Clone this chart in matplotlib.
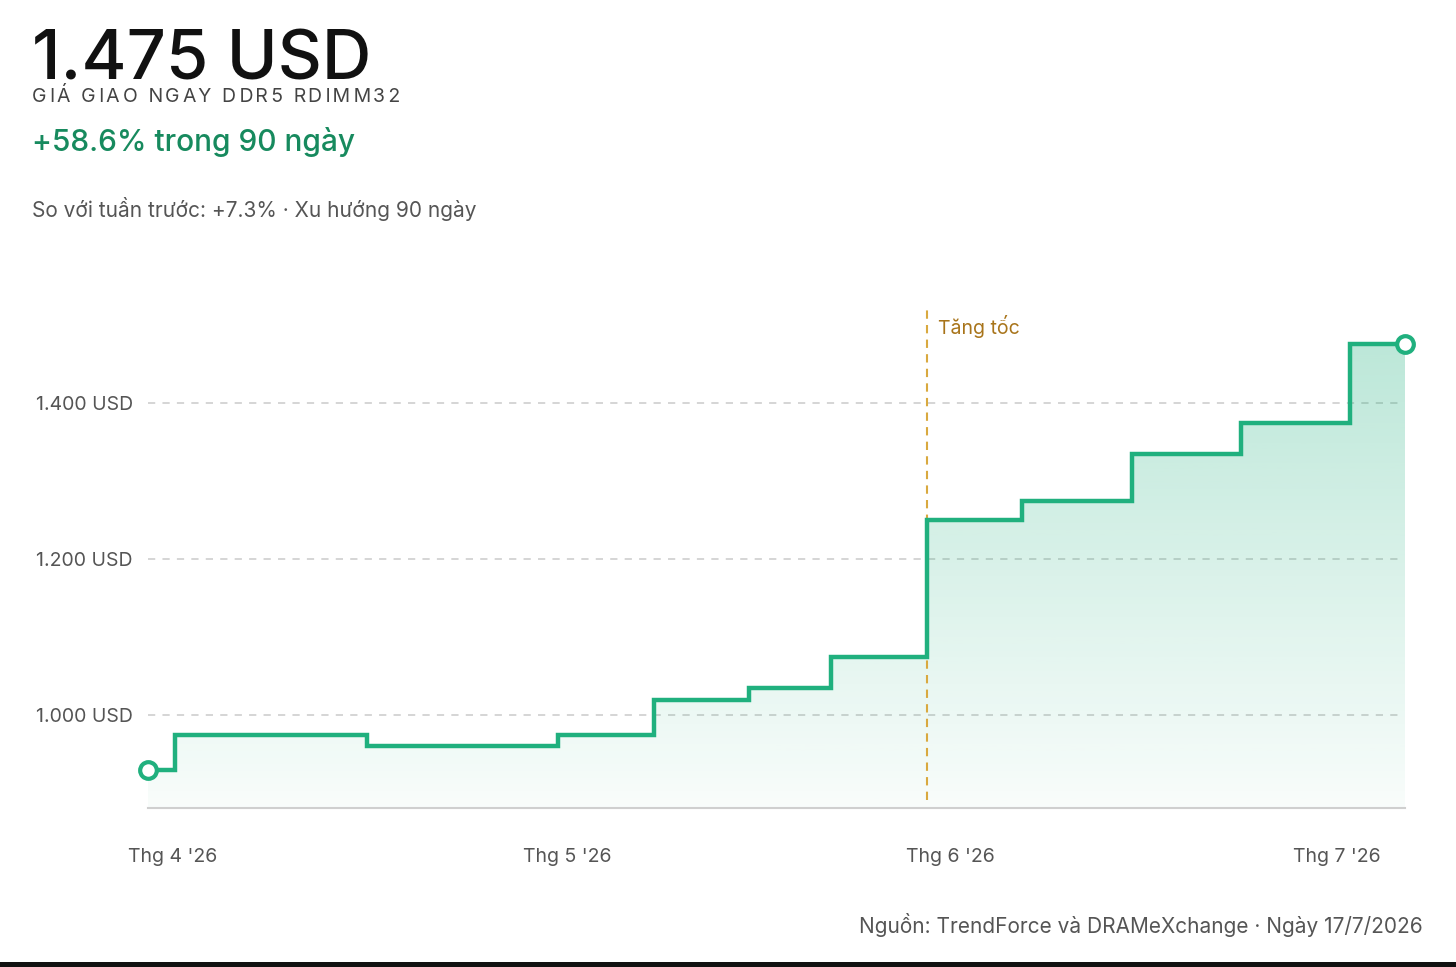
import matplotlib.pyplot as plt
import matplotlib.patches as mpatches
import numpy as np

# data
days = [0, 2, 16, 30, 37, 44, 50, 57, 64, 72, 80, 88, 92]
prices = [930, 975, 960, 975, 1020, 1035, 1075, 1250, 1275, 1335, 1375, 1475, 1475]
ytick_vals = [1000, 1200, 1400]
ytick_labels = ['1.000 USD', '1.200 USD', '1.400 USD']
xtick_pos = [1.8, 30.7, 58.7, 87.0]
xtick_labels = ["Thg 4 '26", "Thg 5 '26", "Thg 6 '26", "Thg 7 '26"]
accel_day = 57

W, H = 1456, 967
GREEN = '#20b07e'
GRAY = '#555555'

plt.rcParams['font.family'] = ['Inter', 'DejaVu Sans']

fig = plt.figure(figsize=(W / 100, H / 100), dpi=100)
ax = fig.add_axes([148 / W, 1 - 808 / H, (1405 - 148) / W, (808 - 300) / H])
ax.set_xlim(0, 92)
ax.set_ylim(881, 1532)

# gradient fill under the step line
fill = ax.fill_between(days, prices, 881, step='post', color='none', lw=0)
ys = np.linspace(0, 1, 256)[:, None]
alpha = 0.03 + 0.27 * np.clip((ys * (1532 - 881)) / (1475 - 881), 0, 1)
img = np.zeros((256, 1, 4))
img[..., 0], img[..., 1], img[..., 2] = 0x20 / 255, 0xb0 / 255, 0x7e / 255
img[..., 3] = alpha
im = ax.imshow(img, extent=[0, 92, 881, 1532], origin='lower', aspect='auto', zorder=1)
im.set_clip_path(fill.get_paths()[0], transform=ax.transData)

for v in ytick_vals:
    ax.plot([0, 91.6], [v, v], color='#d2d2d2', lw=1.3, ls=(0, (4, 4)), zorder=0)

ax.axvline(accel_day, ymin=0.015, ymax=0.98, color='#d9a93f', lw=1.5,
           ls=(0, (4, 3)), zorder=2)
ax.text(accel_day + 0.8, 1489, 'Tăng tốc', color='#a8741a', fontsize=14, va='baseline')

ax.step(days, prices, where='post', color=GREEN, lw=3.2, zorder=3, solid_joinstyle='miter')
ax.plot([days[0], days[-1]], [prices[0], prices[-1]], 'o', ms=12, mfc='white', mec=GREEN,
        mew=3, zorder=4, clip_on=False)

for s in ['top', 'right', 'left']:
    ax.spines[s].set_visible(False)
ax.spines['bottom'].set_color('#cfcfcf')
ax.spines['bottom'].set_linewidth(1.5)
ax.set_yticks(ytick_vals, ytick_labels)
ax.set_xticks(xtick_pos, xtick_labels)
ax.tick_params(axis='y', length=0, pad=11, labelsize=14, labelcolor=GRAY)
ax.tick_params(axis='x', length=0, pad=28.5, labelsize=14, labelcolor=GRAY)


def fx(x):
    return x / W


def fy(y):
    return 1 - y / H


fig.text(fx(32), fy(80), '1.475 USD', fontsize=49.5, color='#111111', va='baseline',
         fontweight='medium')

# spaced-out caption: alternate thin / hair spaces between letters
letters = 'GIÁ GIAO NGAY DDR5 RDIMM32'
caption = letters[0]
for i, ch in enumerate(letters[1:]):
    caption += ('\u2009' if i % 2 == 0 else '\u200a') + ch
fig.text(fx(32), fy(102), caption, fontsize=14, color='#444444', va='baseline')

fig.text(fx(32), fy(151), '+58.6% trong 90 ngày', fontsize=21.5, color='#178a5e',
         va='baseline', fontweight='medium')
fig.text(fx(32), fy(217), 'So với tuần trước: +7.3% · Xu hướng 90 ngày', fontsize=15,
         color=GRAY, va='baseline')
fig.text(fx(1423), fy(933), 'Nguồn: TrendForce và DRAMeXchange · Ngày 17/7/2026', fontsize=15,
         color=GRAY, va='baseline', ha='right')

fig.add_artist(mpatches.Rectangle((0, 0), 1, 5 / H, transform=fig.transFigure,
                                  color='#111111', lw=0))

fig.savefig('out.png', dpi=100)
